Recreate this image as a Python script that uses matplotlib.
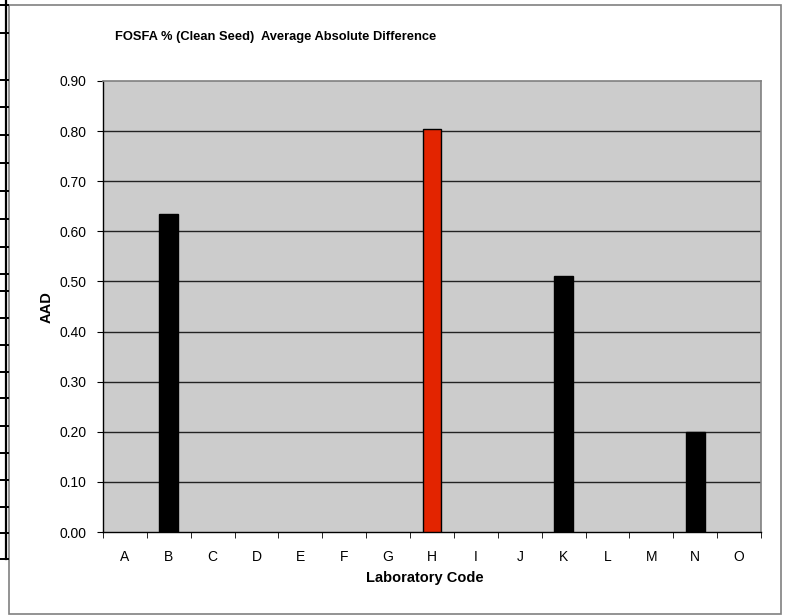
import numpy as np
import matplotlib.pyplot as plt
from matplotlib.lines import Line2D
from matplotlib.patches import Rectangle

plt.rcParams['font.family'] = ['Liberation Sans', 'DejaVu Sans']

labs = ["A", "B", "C", "D", "E", "F", "G", "H", "I", "J", "K", "L", "M", "N", "O"]
aad = [0, 0.635, 0, 0, 0, 0, 0, 0.805, 0, 0, 0.51, 0, 0, 0.20, 0]
highlight = "H"
yticks = [0.0, 0.1, 0.2, 0.3, 0.4, 0.5, 0.6, 0.7, 0.8, 0.9]

W, H = 788, 615
fig = plt.figure(figsize=(W / 100, H / 100), dpi=100)

# bits of the table cut off at the left edge of the page
def px(x, y):
    return x / W, 1 - y / H

rows = [5, 33, 80, 107, 135, 163, 191, 219, 247, 274, 291, 318, 345, 372,
        398, 426, 453, 480, 507, 533, 559]
fig.add_artist(Line2D([px(6, 0)[0]] * 2, [px(0, 0)[1], px(0, 559)[1]],
                      color="black", lw=1.6))
for r in rows:
    fig.add_artist(Line2D([0, px(8, 0)[0]], [px(0, r)[1]] * 2, color="black", lw=1.4))

# chart frame
x0, y0 = px(9, 614)
x1, y1 = px(781, 5)
fig.add_artist(Rectangle((x0, y0), x1 - x0, y1 - y0, transform=fig.transFigure,
                         fill=False, edgecolor="#808080", lw=1.2))

ax = fig.add_axes([103 / W, 1 - 532 / H, 658 / W, 451 / H])
ax.set_facecolor("#CCCCCC")

x = np.arange(len(labs))
colors = ["#E32400" if l == highlight else "black" for l in labs]
edges = [1 if v > 0 else 0 for v in aad]
ax.bar(x, aad, width=0.43, color=colors, edgecolor="black", linewidth=edges, zorder=3)

ax.set_xlim(-0.5, len(labs) - 0.5)
ax.set_ylim(0, 0.9)
ax.set_yticks(yticks)
ax.set_yticklabels([f"{v:.2f}" for v in yticks], fontsize=10)
for v in yticks[1:-1]:
    ax.axhline(v, color="#222222", lw=1, zorder=1)

ax.set_xticks(x)
ax.set_xticklabels(labs, fontsize=10)
ax.set_xticks(np.arange(-0.5, len(labs)), minor=True)
ax.tick_params(axis="x", which="major", length=0, pad=13)
ax.tick_params(axis="x", which="minor", length=4, direction="out", color="black")
ax.tick_params(axis="y", length=4, direction="out", pad=8)

for s in ["top", "right"]:
    ax.spines[s].set_color("#808080")
    ax.spines[s].set_linewidth(1.2)
for s in ["left", "bottom"]:
    ax.spines[s].set_color("black")
    ax.spines[s].set_linewidth(1)

tx, ty = px(115, 37)
fig.text(tx, ty, "FOSFA % (Clean Seed)  Average Absolute Difference",
         fontsize=9.3, fontweight="bold", va="center", ha="left")
lx, ly = px(47, 307)
fig.text(lx, ly, "AAD", fontsize=10.5, fontweight="bold", rotation=90,
         va="center", ha="center")
bx, by = px(425, 578)
fig.text(bx, by, "Laboratory Code", fontsize=10.5, fontweight="bold",
         va="center", ha="center")

fig.savefig("out.png", dpi=100)
